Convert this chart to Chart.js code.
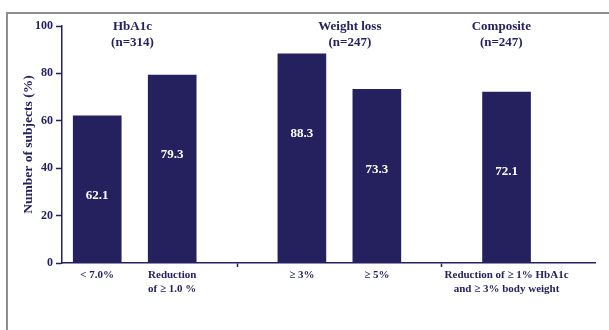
<!DOCTYPE html>
<html>
<head>
<meta charset="utf-8">
<script src="https://cdn.jsdelivr.net/npm/chart.js@4.4.1/dist/chart.umd.min.js"></script>
<style>
  html, body { margin: 0; padding: 0; background: #fff; }
  #wrap { position: relative; width: 609px; height: 330px; overflow: hidden; }
  #frame { position: absolute; left: 6px; top: 12px; width: 700px; height: 400px;
           border-top: 2px solid #8e8e8e; border-left: 2px solid #8e8e8e; }
  canvas { position: absolute; left: 0; top: 0; }
</style>
</head>
<body>
<div id="wrap">
  <div id="frame"></div>
  <canvas id="myChart" width="609" height="330"></canvas>
</div>
<script>
const groups = ['HbA1c', 'Weight loss', 'Composite']
const groupSizes = [314, 247, 247]
const categories = ['< 7.0%', ['Reduction', 'of ≥ 1.0 %'], '≥ 3%', '≥ 5%', ['Reduction of ≥ 1% HbA1c', 'and ≥ 3% body weight']]
const categoryGroup = [0, 0, 1, 1, 2]
const percentages = [62.1, 79.3, 88.3, 73.3, 72.1]

// layout
const NAVY = '#25215f'
const FONT = '"Liberation Serif", "Times New Roman", serif'
const GROUP_GAP = 0.73
const headerShift = [-0.03, 0.14, -0.07]

// bars sit one unit apart, with extra room between groups
const slots = categories.map((c, i) => i + categoryGroup[i] * GROUP_GAP)

let separators = []
for (let g = 1; g < groups.length; g++) {
    const prev = slots.filter((s, i) => categoryGroup[i] == g - 1)
    const next = slots.filter((s, i) => categoryGroup[i] == g)
    separators.push((prev[prev.length - 1] + next[0]) / 2)
}

const groupCentre = groups.map((g, gi) => {
    const s = slots.filter((v, i) => categoryGroup[i] == gi)
    return (s[0] + s[s.length - 1]) / 2 + headerShift[gi]
})

const barLabels = {
    id: 'barLabels',
    afterDatasetsDraw(chart) {
        const ctx = chart.ctx
        const meta = chart.getDatasetMeta(0)
        ctx.save()
        ctx.font = 'bold 13px ' + FONT
        ctx.fillStyle = '#ffffff'
        ctx.textAlign = 'center'
        ctx.textBaseline = 'middle'
        meta.data.forEach((bar, i) => {
            ctx.fillText(percentages[i].toFixed(1), bar.x, bar.y + 80)
        })

        // group headings above the bars
        const x = chart.scales.x
        const top = chart.chartArea.top
        ctx.fillStyle = NAVY
        groups.forEach((g, i) => {
            const px = x.getPixelForValue(groupCentre[i])
            ctx.fillText(g, px, top + 1)
            ctx.fillText('(n=' + groupSizes[i] + ')', px, top + 17)
        })
        ctx.restore()
    }
}

let ctx = document.getElementById('myChart').getContext('2d')

const config = {
    type: 'bar',
    data: {
        datasets: [{
            label: 'Subjects',
            data: percentages.map((p, i) => ({ x: slots[i], y: p })),
            backgroundColor: NAVY,
            borderWidth: 0,
            barThickness: 48
        }]
    },
    options: {
        responsive: false,
        animation: false,
        layout: { padding: { top: 26, right: 14, bottom: 0, left: 0 } },
        plugins: {
            legend: { display: false },
            tooltip: { enabled: false }
        },
        scales: {
            x: {
                type: 'linear',
                offset: false,
                min: -0.47,
                max: 6.64,
                afterBuildTicks: (scale) => {
                    scale.ticks = slots.concat(separators).map(v => ({ value: v }))
                },
                afterFit: (scale) => { scale.height = 67 },
                grid: {
                    offset: false,
                    drawOnChartArea: false,
                    tickLength: 4,
                    tickWidth: 1.5,
                    tickColor: (c) => separators.includes(c.tick && c.tick.value) ? NAVY : 'rgba(0,0,0,0)'
                },
                border: { color: NAVY, width: 1.5 },
                ticks: {
                    autoSkip: false,
                    maxRotation: 0,
                    padding: 2,
                    color: NAVY,
                    font: { family: FONT, size: 11, weight: 'bold', lineHeight: 1.2 },
                    callback: (value) => {
                        const i = slots.indexOf(value)
                        return i >= 0 ? categories[i] : ''
                    }
                }
            },
            y: {
                min: 0,
                max: 100,
                afterFit: (scale) => { scale.width = 62 },
                grid: { drawOnChartArea: false, tickLength: 6, tickColor: NAVY, tickWidth: 1.5 },
                border: { color: NAVY, width: 1.5 },
                ticks: {
                    stepSize: 20,
                    padding: 3,
                    color: NAVY,
                    font: { family: FONT, size: 12, weight: 'bold' }
                },
                title: {
                    display: true,
                    text: 'Number of subjects (%)',
                    color: NAVY,
                    padding: { top: 20, bottom: 0 },
                    font: { family: FONT, size: 13.5, weight: 'bold' }
                }
            }
        }
    },
    plugins: [barLabels]
}

let myChart = new Chart(ctx, config)
</script>
</body>
</html>
